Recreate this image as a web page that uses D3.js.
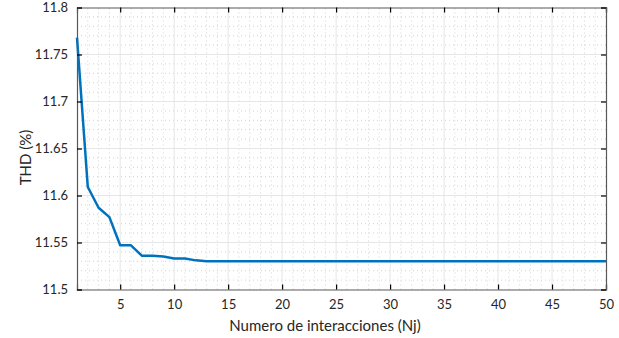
<!DOCTYPE html>
<html>
<head>
<meta charset="utf-8">
<script src="https://cdn.jsdelivr.net/npm/d3@7"></script>
<style>
  body { margin: 0; background: #fff; }
  svg text { font-family: Lato, "Open Sans", sans-serif; fill: #262626; }
</style>
</head>
<body>
<div id="chart"></div>
<script>
// iterations and THD values
const iters = d3.range(1, 51);
const thd = [11.768, 11.609, 11.587, 11.577, 11.547, 11.547, 11.536, 11.536, 11.535, 11.533,
  11.533, 11.531, 11.530, 11.530, 11.530, 11.530, 11.530, 11.530, 11.530, 11.530,
  11.530, 11.530, 11.530, 11.530, 11.530, 11.530, 11.530, 11.530, 11.530, 11.530,
  11.530, 11.530, 11.530, 11.530, 11.530, 11.530, 11.530, 11.530, 11.530, 11.530,
  11.530, 11.530, 11.530, 11.530, 11.530, 11.530, 11.530, 11.530, 11.530, 11.530];
const xTicks = [5, 10, 15, 20, 25, 30, 35, 40, 45, 50];
const yTicks = [11.5, 11.55, 11.6, 11.65, 11.7, 11.75, 11.8];

const width = 619, height = 338;
const margin = {left: 77, right: 13, top: 7.5, bottom: 48.5};

const svg = d3.select("#chart").append("svg")
  .attr("width", width).attr("height", height);

const x = d3.scaleLinear().domain([1, 50]).range([margin.left, width - margin.right]);
const y = d3.scaleLinear().domain([11.5, 11.8]).range([height - margin.bottom, margin.top]);

const g = svg.append("g");

// minor grid (dotted)
g.selectAll(".mx").data(d3.range(2, 50).filter(d => d % 5 != 0)).enter().append("line")
  .attr("x1", d => x(d)).attr("x2", d => x(d))
  .attr("y1", y(11.5)).attr("y2", y(11.8))
  .attr("stroke", "#d2d2d2").attr("stroke-width", 1).attr("stroke-dasharray", "1,3");
g.selectAll(".my").data(d3.range(1, 30).filter(d => d % 5 != 0).map(d => 11.5 + d * 0.01)).enter().append("line")
  .attr("x1", x(1)).attr("x2", x(50))
  .attr("y1", d => y(d)).attr("y2", d => y(d))
  .attr("stroke", "#d2d2d2").attr("stroke-width", 1).attr("stroke-dasharray", "1,3");

// major grid
g.selectAll(".gx").data(xTicks.slice(0, -1)).enter().append("line")
  .attr("x1", d => x(d)).attr("x2", d => x(d))
  .attr("y1", y(11.5)).attr("y2", y(11.8))
  .attr("stroke", "#e6e6e6").attr("stroke-width", 1);
g.selectAll(".gy").data(yTicks.slice(1, -1)).enter().append("line")
  .attr("x1", x(1)).attr("x2", x(50))
  .attr("y1", d => y(d)).attr("y2", d => y(d))
  .attr("stroke", "#e6e6e6").attr("stroke-width", 1);

// data line
const line = d3.line().x((d, i) => x(iters[i])).y(d => y(d));
svg.append("path").datum(thd)
  .attr("d", line)
  .attr("fill", "none")
  .attr("stroke", "#0072BD")
  .attr("stroke-width", 2.5)
  .attr("stroke-linejoin", "round");

// axes: inward ticks on all four sides
const tick = 5;
const xb = d3.axisBottom(x).tickValues(xTicks).tickSize(-tick).tickPadding(10).tickFormat(d3.format("d"));
const xt = d3.axisTop(x).tickValues(xTicks).tickSize(-tick).tickFormat("");
const yl = d3.axisLeft(y).tickValues(yTicks).tickSize(-tick).tickPadding(9).tickFormat(d => d3.format("")(+d.toFixed(2)));
const yr = d3.axisRight(y).tickValues(yTicks).tickSize(-tick).tickFormat("");

function styleAxis(sel) {
  sel.select(".domain").attr("stroke", "#595959").attr("stroke-width", 1.2);
  sel.selectAll(".tick line").attr("stroke", "#000").attr("stroke-width", 1.2);
  sel.selectAll(".tick text").style("font-family", "Lato, 'Open Sans', sans-serif")
    .style("font-size", "13px").attr("fill", "#262626");
}

svg.append("g").attr("transform", `translate(0,${y(11.5)})`).call(xb).call(styleAxis);
svg.append("g").attr("transform", `translate(0,${y(11.8)})`).call(xt).call(styleAxis);
svg.append("g").attr("transform", `translate(${x(1)},0)`).call(yl).call(styleAxis);
svg.append("g").attr("transform", `translate(${x(50)},0)`).call(yr).call(styleAxis);

// labels
svg.append("text")
  .attr("x", 325).attr("y", 331)
  .attr("text-anchor", "middle")
  .style("font-size", "15px")
  .text("Numero de interacciones (Nj)");

svg.append("text")
  .attr("transform", `translate(31,${(y(11.5) + y(11.8)) / 2 + 9}) rotate(-90)`)
  .attr("text-anchor", "middle")
  .style("font-size", "15px")
  .text("THD (%)");
</script>
</body>
</html>
